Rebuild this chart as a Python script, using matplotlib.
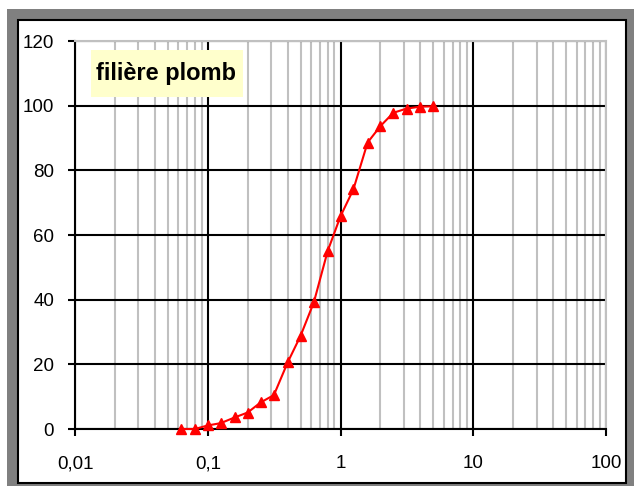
import matplotlib
matplotlib.use('Agg')
import matplotlib.pyplot as plt
from matplotlib.patches import Rectangle
from matplotlib.ticker import FixedLocator, FixedFormatter, LogLocator, NullFormatter

plt.rcParams['font.family'] = ['Liberation Sans', 'DejaVu Sans']

# ouverture des tamis (mm) et passant cumulé (%)
taille = [0.063, 0.08, 0.1, 0.125, 0.16, 0.2, 0.25, 0.315, 0.4, 0.5,
          0.63, 0.8, 1.0, 1.25, 1.6, 2.0, 2.5, 3.15, 4.0, 5.0]
passant = [0, 0, 1.1, 1.8, 3.6, 5.1, 8.2, 10.5, 20.6, 28.8,
           39.2, 55, 65.8, 74.1, 88.6, 93.7, 97.8, 99.1, 99.7, 99.8]
x_ticks = [0.01, 0.1, 1, 10, 100]
x_labels = ['0,01', '0,1', '1', '10', '100']
y_ticks = [0, 20, 40, 60, 80, 100, 120]
titre = 'filière plomb'

W, H = 634, 486
fig = plt.figure(figsize=(W / 100, H / 100), dpi=100)

# cadre gris + fond blanc bordé de noir
fig.patches.append(Rectangle((7 / W, 0), 1 - 7 / W, 1 - 9 / H, transform=fig.transFigure,
                             facecolor='#808080', edgecolor='none', zorder=-2))
fig.patches.append(Rectangle((18 / W, 3 / H), 608 / W, 463 / H, transform=fig.transFigure,
                             facecolor='white', edgecolor='black', lw=1.5, zorder=-1))

ax = fig.add_axes([75 / W, (486 - 429) / H, 531 / W, 388 / H])
ax.set_zorder(1)
ax.set_facecolor('none')
ax.set_xscale('log')
ax.set_xlim(0.01, 100)
ax.set_ylim(0, 120)

ax.xaxis.set_major_locator(FixedLocator(x_ticks))
ax.xaxis.set_major_formatter(FixedFormatter(x_labels))
ax.xaxis.set_minor_locator(LogLocator(base=10, subs=range(2, 10)))
ax.xaxis.set_minor_formatter(NullFormatter())
ax.set_yticks(y_ticks)

ax.set_axisbelow(True)
ax.grid(which='major', color='black', lw=1.5)
ax.grid(which='minor', axis='x', color='#c0c0c0', lw=1.5)

for s in ['left', 'bottom']:
    ax.spines[s].set_color('black')
    ax.spines[s].set_linewidth(1.5)
for s in ['top', 'right']:
    ax.spines[s].set_color('#c0c0c0')
    ax.spines[s].set_linewidth(1.5)

ax.tick_params(which='major', direction='out', length=5, width=1.5, color='black',
               labelsize=13.5, labelcolor='black')
ax.tick_params(axis='y', pad=10)
ax.tick_params(axis='x', pad=14)
ax.tick_params(which='minor', length=0)

ax.plot(taille, passant, color='red', lw=1.5, marker='^', ms=7, clip_on=False, zorder=4)

# étiquette
ax.add_patch(Rectangle((91 / W, 1 - 97 / H), 152 / W, 47 / H, transform=fig.transFigure,
                       facecolor='#ffffcc', edgecolor='none', zorder=5))
ax.text(166 / W, 1 - 73.5 / H, titre, transform=fig.transFigure, ha='center', va='center',
        fontsize=17, fontweight='bold', zorder=6)

fig.savefig('out.png', dpi=100)
